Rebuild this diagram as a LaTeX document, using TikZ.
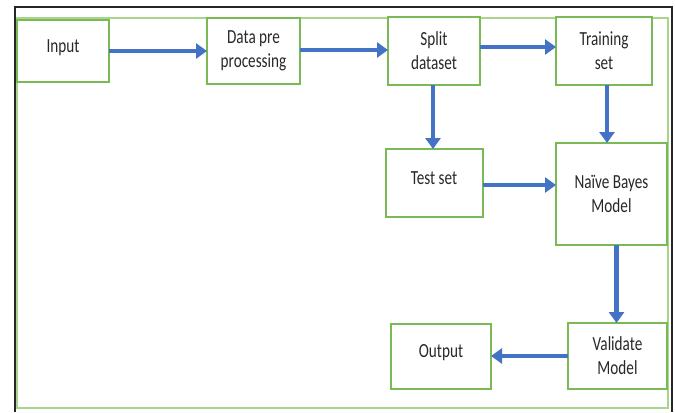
\documentclass[tikz,border=0pt]{standalone}
\usepackage{fontspec}
\usepackage{tikz}
\usetikzlibrary{arrows.meta,positioning,calc}
\newfontfamily\boxfont[FakeStretch=0.76]{Carlito}
\definecolor{boxgreen}{RGB}{122,186,84}
\definecolor{framegreen}{RGB}{168,212,140}
\definecolor{arrowblue}{RGB}{68,114,196}
\definecolor{textgray}{RGB}{40,40,40}

\begin{document}
\begin{tikzpicture}[x=1bp, y=1bp,
        box/.style={draw=boxgreen, line width=2bp, fill=white, inner sep=0pt, outer sep=0pt, align=center, text=textgray},
        oneline/.style={text height=13bp, text depth=10bp},
        arr/.style={draw=arrowblue, line width=4.5bp, -{Triangle[length=11bp, width=15bp]}},
        every node/.style={font=\boxfont\fontsize{20bp}{24bp}\selectfont}]
        \useasboundingbox (0,0) rectangle (675,412);
        \draw[black!85, line width=2.5bp] (15,0) -- (15,405) -- (672,405) -- (672,0);
        \draw[framegreen, line width=2bp] (17,4) rectangle (668,394);
        \node[box, oneline, minimum width=92bp, minimum height=62bp] (input) at (63,361) {Input};
        \node[box, minimum width=93bp, minimum height=66bp, right=98bp of input] (data) {Data pre\\processing};
        \node[box, minimum width=92bp, minimum height=68bp, right=88bp of data] (split) {Split\\dataset};
        \node[box, minimum width=96bp, minimum height=68bp, right=76bp of split] (training) {Training\\set};
        \node[box, oneline, minimum width=97bp, minimum height=68bp, below=64bp of split] (test) {Test set};
        \node[box, minimum width=111bp, minimum height=102bp, below=58bp of training.south west, anchor=north west] (nb) {Na\"ive Bayes\\Model};
        \node[box, minimum width=99bp, minimum height=66bp, below=78bp of nb.south east, anchor=north east] (validate) {Validate\\Model};
        \node[box, oneline, minimum width=100bp, minimum height=65bp, left=77bp of validate] (output) {Output};
        \draw[arr] (input.east) -- (input.east -| data.west);
        \draw[arr] ([yshift=1bp]data.east) -- ([yshift=1bp]data.east -| split.west);
        \draw[arr] ([yshift=4bp]split.east) -- ([yshift=4bp]split.east -| training.west);
        \draw[arr] ([xshift=-1bp]split.south) -- ([xshift=-1bp]split.south |- test.north);
        \draw[arr] ([xshift=3bp]training.south) -- ([xshift=3bp]training.south |- nb.north);
        \draw[arr] ([yshift=-2bp]test.east) -- ([yshift=-2bp]test.east -| nb.west);
        \draw[arr] ([xshift=-1bp]validate.north |- nb.south) -- ([xshift=-1bp]validate.north);
        \draw[arr] (validate.west) -- (validate.west -| output.east);
      \end{tikzpicture}
\end{document}
